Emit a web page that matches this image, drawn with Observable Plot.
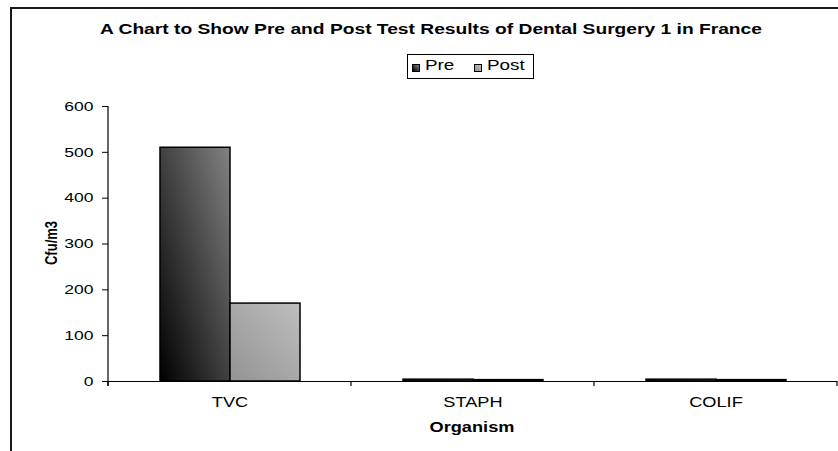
<!DOCTYPE html>
<html><head><meta charset="utf-8">
<script src="https://cdn.jsdelivr.net/npm/d3@7"></script>
<script src="https://cdn.jsdelivr.net/npm/@observablehq/plot@0.6"></script>
<style>
body{margin:0;background:#fff;font-family:"Liberation Sans",Arial,sans-serif;color:#000;}
#wrap{position:relative;width:838px;height:451px;overflow:hidden;background:#fff;}
#frame{position:absolute;left:10px;top:7px;width:900px;height:500px;border-left:2px solid #1a1a1a;border-top:2px solid #1a1a1a;}
#chart{position:absolute;left:0;top:0;}
#title{position:absolute;top:21px;left:431px;font-weight:bold;font-size:14px;white-space:nowrap;}
#legend{position:absolute;left:407px;top:54px;width:125px;height:23px;border:1px solid #000;background:#fff;font-size:14.5px;}
#legend .sw{position:absolute;top:6px;width:6px;height:6px;border:1px solid #000;}
#legend .tx{position:absolute;top:0;display:inline-block;transform-origin:0 50%;white-space:nowrap;}
#ylab{position:absolute;left:51px;top:243px;transform:translate(-50%,-50%) rotate(-90deg) scaleY(1.3);font-weight:bold;font-size:13px;white-space:nowrap;}
#xlab{position:absolute;left:472px;top:427px;transform:translate(-50%,-50%) scaleX(1.3);font-weight:bold;font-size:14px;white-space:nowrap;}
</style></head>
<body>
<div id="wrap">
  <div id="frame"></div>
  <div id="chart"></div>
  <div id="title">A Chart to Show Pre and Post Test Results of Dental Surgery 1 in France</div>
  <div id="legend"></div>
  <div id="ylab">Cfu/m3</div>
  <div id="xlab">Organism</div>
</div>
<script>
const categories = ["TVC", "STAPH", "COLIF"];
const series = ["Pre", "Post"];
const preValues = [510, 4, 4];
const postValues = [170, 3, 3];
const yTicks = [0, 100, 200, 300, 400, 500, 600];
const seriesFills = ["url(#gPre)", "url(#gPost)"];
const STRETCH = 1.3;

const data = [];
categories.forEach((c, i) => {
  data.push({cat: c, series: "Pre", value: preValues[i]});
  data.push({cat: c, series: "Post", value: postValues[i]});
});

const plot = Plot.plot({
  width: 838,
  height: 451,
  marginLeft: 108,
  marginRight: 1,
  marginTop: 106,
  marginBottom: 70,
  style: {fontSize: "14px", fontFamily: "'Liberation Sans', Arial, sans-serif", color: "#000", background: "transparent"},
  fx: {domain: categories, padding: 0, tickSize: 0, tickPadding: 16, label: null, axis: "bottom"},
  x: {domain: series, axis: null, paddingInner: 0, paddingOuter: 0.7357},
  y: {domain: [0, 600], label: null},
  color: {domain: series, range: seriesFills},
  marks: [
    Plot.axisY({ticks: yTicks, tickSize: 6, tickPadding: 9, label: null, stroke: "#000", fontSize: 13.5}),
    Plot.barY(data, {fx: "cat", x: "series", y: "value", fill: "series", stroke: "#000", strokeWidth: 1.5}),
    Plot.ruleY([0], {stroke: "#000", strokeWidth: 1.2})
  ]
});

document.getElementById("chart").appendChild(plot);

const svg = d3.select(plot);

// horizontally stretch all text (reference glyphs are widened)
svg.selectAll("text").each(function() {
  const t = d3.select(this);
  const tr = t.attr("transform");
  if (tr) t.attr("transform", tr + ` scale(${STRETCH},1)`);
  else {
    const x = +t.attr("x") || 0;
    t.attr("transform", `translate(${x},0) scale(${STRETCH},1) translate(${-x},0)`);
  }
});

// gradients
const defs = svg.insert("defs", ":first-child");
function grad(id, c0, c1) {
  const g = defs.append("linearGradient").attr("id", id)
    .attr("x1", 0).attr("y1", 1).attr("x2", 1).attr("y2", 0);
  g.append("stop").attr("offset", "0%").attr("stop-color", c0);
  g.append("stop").attr("offset", "100%").attr("stop-color", c1);
}
grad("gPre", "#000000", "#828282");
grad("gPost", "#939393", "#bebebe");

// axis lines and category boundary ticks via scales
const fx = plot.scale("fx");
const y = plot.scale("y");
const left = fx.apply(categories[0]);
const right = fx.apply(categories[categories.length - 1]) + fx.bandwidth;
const g = svg.append("g").attr("stroke", "#000").attr("stroke-width", 1.2);
g.append("line").attr("x1", left).attr("x2", left).attr("y1", y.apply(600)).attr("y2", y.apply(0) + 5);
categories.map(c => fx.apply(c)).concat([right]).forEach(b => {
  g.append("line").attr("x1", b).attr("x2", b).attr("y1", y.apply(0)).attr("y2", y.apply(0) + 5);
});

// title: stretch to reference width, centered
const title = document.getElementById("title");
const tw = title.getBoundingClientRect().width;
const ts = 662 / tw;
title.style.transform = `translateX(-50%) scaleX(${ts})`;

// legend
const legend = d3.select("#legend");
const swX = [4, 66], txX = [17, 79];
const swFill = ["linear-gradient(45deg,#000,#828282)", "linear-gradient(45deg,#939393,#bebebe)"];
series.forEach((s, i) => {
  legend.append("span").attr("class", "sw").style("left", swX[i] + "px").style("top", "9px").style("background", swFill[i]);
  legend.append("span").attr("class", "tx").style("left", txX[i] + "px").style("top", "2px")
    .style("transform", `scaleX(${STRETCH})`).text(s);
});
</script>
</body></html>
